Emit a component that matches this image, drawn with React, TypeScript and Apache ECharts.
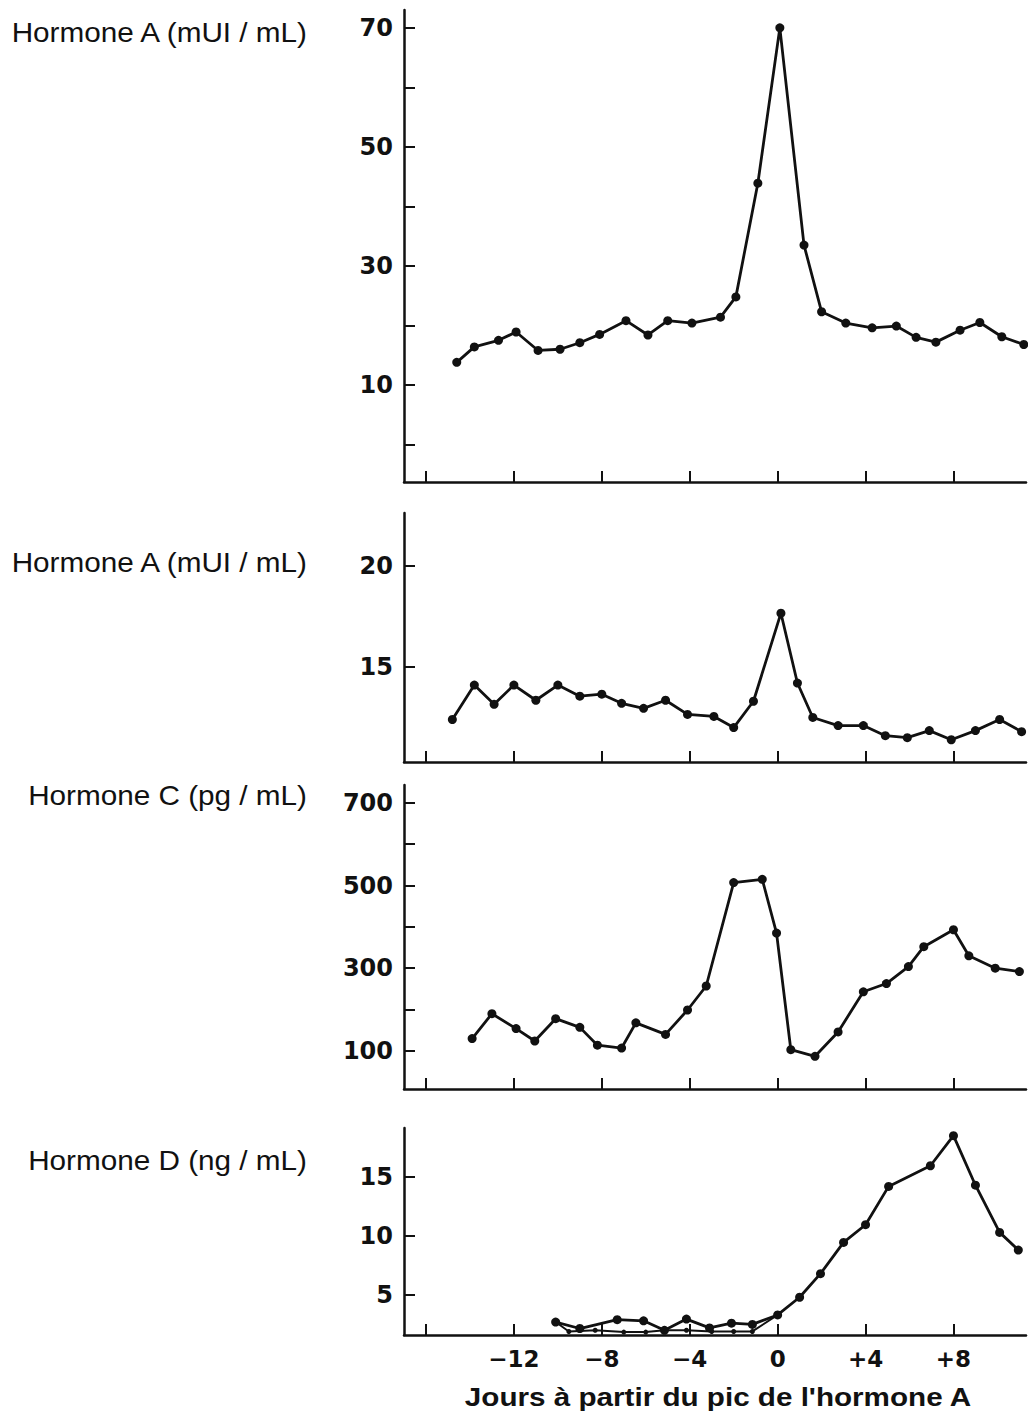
import React, { useEffect, useRef } from "react";
import * as echarts from "echarts";

// ---- data ----
const xTickDays = [-16, -12, -8, -4, 0, 4, 8];
const xLabelDays = [-12, -8, -4, 0, 4, 8];

const hormoneA1Days = [-14.6, -13.8, -12.7, -11.9, -10.9, -9.9, -9.0, -8.1, -6.9, -5.9, -5.0, -3.9, -2.6, -1.9, -0.9, 0.1, 1.2, 2.0, 3.1, 4.3, 5.4, 6.3, 7.2, 8.3, 9.2, 10.2, 11.2];
const hormoneA1Values = [13.8, 16.4, 17.5, 18.9, 15.8, 16.0, 17.1, 18.5, 20.8, 18.4, 20.8, 20.4, 21.4, 24.8, 43.9, 70, 33.5, 22.3, 20.4, 19.6, 19.9, 18.0, 17.2, 19.2, 20.5, 18.1, 16.8];
const hormoneA1Ticks = [0, 10, 20, 30, 40, 50, 60, 70];
const hormoneA1Labels = [10, 30, 50, 70];

const hormoneA2Days = [-14.8, -13.8, -12.9, -12.0, -11.0, -10.0, -9.0, -8.0, -7.1, -6.1, -5.1, -4.1, -2.9, -2.0, -1.1, 0.15, 0.9, 1.6, 2.75, 3.9, 4.9, 5.9, 6.9, 7.9, 9.0, 10.1, 11.1];
const hormoneA2Values = [12.4, 14.1, 13.15, 14.1, 13.35, 14.1, 13.55, 13.65, 13.2, 12.95, 13.35, 12.65, 12.55, 12.0, 13.3, 17.65, 14.2, 12.5, 12.1, 12.1, 11.6, 11.5, 11.85, 11.4, 11.85, 12.4, 11.8];
const hormoneA2Ticks = [15, 20];
const hormoneA2Labels = [15, 20];

const hormoneCDays = [-13.9, -13.0, -11.9, -11.05, -10.1, -9.0, -8.2, -7.1, -6.45, -5.1, -4.1, -3.25, -2.0, -0.7, -0.05, 0.6, 1.7, 2.75, 3.9, 4.95, 5.95, 6.65, 8.0, 8.7, 9.9, 11.0];
const hormoneCValues = [130, 190, 154, 124, 178, 157, 114, 107, 168, 140, 199, 257, 507, 515, 385, 103, 87, 146, 243, 263, 304, 352, 393, 330, 300, 292];
const hormoneCTicks = [100, 200, 300, 400, 500, 600, 700];
const hormoneCLabels = [100, 300, 500, 700];

const hormoneDDays = [-10.1, -9.0, -7.3, -6.1, -5.15, -4.15, -3.1, -2.1, -1.15, 0.0, 1.0, 1.95, 3.0, 4.0, 5.05, 6.95, 8.0, 9.0, 10.1, 10.95];
const hormoneDValues = [2.7, 2.15, 2.9, 2.8, 2.0, 2.95, 2.2, 2.6, 2.5, 3.3, 4.8, 6.8, 9.45, 10.95, 14.2, 15.95, 18.5, 14.3, 10.3, 8.8];
const hormoneDLowDays = [-10.1, -9.5, -8.3, -7.0, -6.0, -5.15, -4.15, -3.0, -2.0, -1.15, 0.0];
const hormoneDLowValues = [2.7, 1.9, 2.0, 1.85, 1.85, 2.0, 2.0, 1.9, 1.9, 1.9, 3.3];
const hormoneDTicks = [5, 10, 15];
const hormoneDLabels = [5, 10, 15];

const panelTitles = ["Hormone A (mUI / mL)", "Hormone A (mUI / mL)", "Hormone C (pg / mL)", "Hormone D (ng / mL)"];
const xTitle = "Jours à partir du pic de l'hormone A";

const zip = (xs: number[], ys: number[]) => xs.map((x, i) => [x, ys[i]]);

export default function App() {
  const ref = useRef<HTMLDivElement>(null);
  useEffect(() => {
    document.body.style.margin = "0";
    const chart = echarts.init(ref.current!, null, { renderer: "svg" });
    const ink = "#111";
    const font = "'Liberation Sans', Arial, sans-serif";
    const tickFont = "'DejaVu Sans', sans-serif";
    const grids = [
      { left: 404, right: 2, top: 10, height: 472 },
      { left: 404, right: 2, top: 513, height: 249 },
      { left: 404, right: 2, top: 785, height: 304 },
      { left: 404, right: 2, top: 1128, height: 207 },
    ];
    const yRanges = [
      { min: -6.3, max: 73, ticks: hormoneA1Ticks, labels: hormoneA1Labels },
      { min: 10.3, max: 22.6, ticks: hormoneA2Ticks, labels: hormoneA2Labels },
      { min: 8, max: 743, ticks: hormoneCTicks, labels: hormoneCLabels },
      { min: 1.6, max: 19.15, ticks: hormoneDTicks, labels: hormoneDLabels },
    ];
    const lineSeries = (idx: number, data: number[][], size = 9, width = 2.8) => ({
      type: "line",
      xAxisIndex: idx,
      yAxisIndex: idx,
      data,
      symbol: "circle",
      symbolSize: size,
      showSymbol: true,
      lineStyle: { color: ink, width },
      itemStyle: { color: ink, borderWidth: 0 },
      emphasis: { disabled: true },
      z: 3,
    });
    const titleY = [32, 562, 795, 1160];
    chart.setOption({
      animation: false,
      backgroundColor: "#fff",
      grid: grids,
      xAxis: grids.map((_, i) => ({
        type: "value",
        gridIndex: i,
        min: -17,
        max: 11.3,
        axisLine: { show: true, onZero: false, lineStyle: { color: ink, width: 2.5 } },
        axisTick: { show: true, inside: true, length: 11, customValues: xTickDays, lineStyle: { color: ink, width: 2 } },
        axisLabel: {
          show: i === 3,
          customValues: xLabelDays,
          margin: 12,
          color: ink,
          fontFamily: tickFont,
          fontWeight: "bold",
          fontSize: 23,
          formatter: (v: number) => (v < 0 ? "\u2212" + Math.abs(v) : v > 0 ? "+" + v : "0"),
        },
        splitLine: { show: false },
      })),
      yAxis: yRanges.map((r, i) => ({
        type: "value",
        gridIndex: i,
        min: r.min,
        max: r.max,
        axisLine: { show: true, onZero: false, lineStyle: { color: ink, width: 2.5 } },
        axisTick: { show: true, inside: true, length: 11, customValues: r.ticks, lineStyle: { color: ink, width: 2 } },
        axisLabel: {
          show: true,
          customValues: r.labels,
          margin: 11,
          color: ink,
          fontFamily: tickFont,
          fontWeight: "bold",
          fontSize: 24,
        },
        splitLine: { show: false },
      })),
      series: [
        lineSeries(0, zip(hormoneA1Days, hormoneA1Values)),
        lineSeries(1, zip(hormoneA2Days, hormoneA2Values)),
        lineSeries(2, zip(hormoneCDays, hormoneCValues)),
        lineSeries(3, zip(hormoneDLowDays, hormoneDLowValues), 5, 2),
        lineSeries(3, zip(hormoneDDays, hormoneDValues)),
      ],
      graphic: [
        ...panelTitles.map((t, i) => ({
          type: "text",
          x: 307,
          y: titleY[i],
          scaleX: 1.1,
          style: {
            text: t,
            fill: ink,
            font: `27px ${font}`,
            textAlign: "right",
            textVerticalAlign: "middle",
          },
        })),
        {
          type: "text",
          x: 718,
          y: 1397,
          scaleX: 1.14,
          style: {
            text: xTitle,
            fill: ink,
            font: `bold 26px ${font}`,
            textAlign: "center",
            textVerticalAlign: "middle",
          },
        },
      ],
    });
    return () => chart.dispose();
  }, []);
  return <div ref={ref} style={{ width: 1028, height: 1422 }} />;
}
